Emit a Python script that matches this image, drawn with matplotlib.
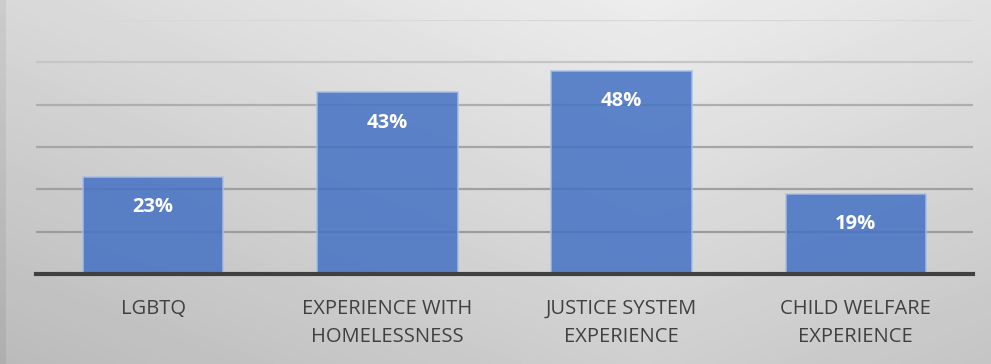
import numpy as np
import matplotlib.pyplot as plt

categories = ['LGBTQ', 'EXPERIENCE WITH\nHOMELESSNESS', 'JUSTICE SYSTEM\nEXPERIENCE',
              'CHILD WELFARE\nEXPERIENCE']
values = [23, 43, 48, 19]
grid_levels = [10, 20, 30, 40, 50, 60]
grid_colors = ['#9c9c9c', '#a0a0a0', '#a6a6a6', '#aeaeae', '#c6c6c6', '#d8d8d8']

W, H = 991, 364


def background(fig):
    # soft grey gradient, brightest near the top right
    xs = np.arange(W)
    ys = np.arange(H)
    X, Y = np.meshgrid(xs, ys)
    shade = 240 - 0.032 * np.abs(X - 650) - 0.082 * (Y + 36)
    shade[:, :6] -= 12
    shade = np.clip(shade, 0, 255) / 255.0
    bg = fig.add_axes([0, 0, 1, 1], zorder=0)
    bg.imshow(shade, cmap='gray', vmin=0, vmax=1, aspect='auto', interpolation='bilinear')
    bg.axis('off')


def main():
    plt.rcParams['font.family'] = ['Open Sans', 'DejaVu Sans']
    fig = plt.figure(figsize=(W / 100, H / 100), dpi=100)
    background(fig)

    ax = fig.add_axes([36 / W, (H - 274) / H, (973 - 36) / W, (274 - 20) / H], zorder=1)
    ax.patch.set_alpha(0)

    x = np.arange(len(categories))
    bars = ax.bar(x, values, width=0.6, color='#4472c4', alpha=0.85,
                  edgecolor='#a9bfe6', linewidth=1.2, zorder=3)

    for b, v in zip(bars, values):
        ax.annotate(f'{v}%', (b.get_x() + b.get_width() / 2, v), xytext=(0, -22),
                    textcoords='offset points', ha='center', va='center',
                    color='white', fontsize=14.5, fontweight='bold', zorder=4)

    ax.set_xlim(-0.5, len(categories) - 0.5)
    ax.set_ylim(0, 60)
    ax.set_yticks(grid_levels)
    ax.set_yticklabels([])
    ax.tick_params(axis='y', length=0)
    for lvl, c in zip(grid_levels, grid_colors):
        ax.axhline(lvl, color=c, linewidth=1.6, zorder=1)

    ax.set_xticks(x)
    ax.set_xticklabels(categories, fontsize=14.5, color='#404040', linespacing=1.5)
    ax.tick_params(axis='x', length=0, pad=18)

    for side in ['top', 'right', 'left']:
        ax.spines[side].set_visible(False)
    ax.spines['bottom'].set_color('#404040')
    ax.spines['bottom'].set_linewidth(3)
    ax.spines['bottom'].set_zorder(5)

    fig.savefig('out.png', dpi=100)


if __name__ == "__main__":
    main()
